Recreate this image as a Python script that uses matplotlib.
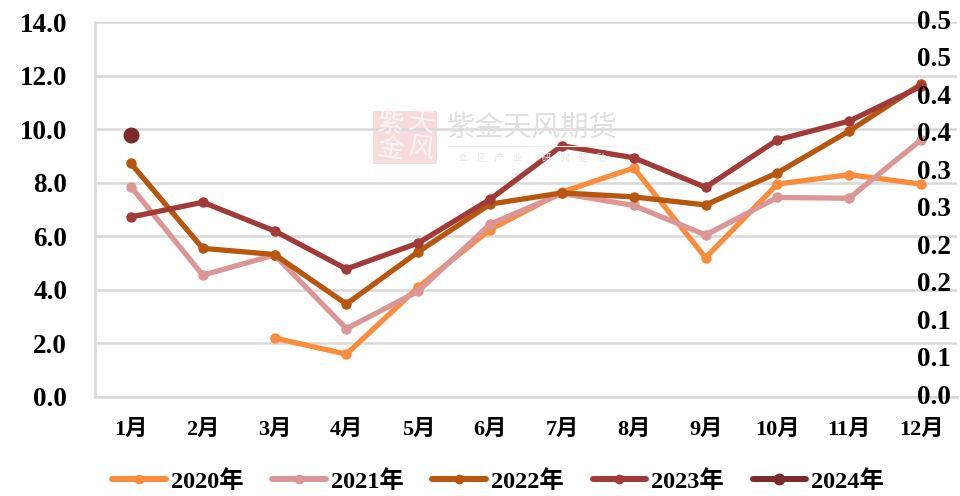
import matplotlib
matplotlib.use('Agg')
import matplotlib.pyplot as plt
from matplotlib.patches import FancyBboxPatch
from matplotlib.transforms import ScaledTranslation

months = ['1月', '2月', '3月', '4月', '5月', '6月', '7月', '8月', '9月', '10月', '11月', '12月']
nan = float('nan')
y2020 = [nan, nan, 2.2, 1.6, 4.1, 6.25, 7.65, 8.55, 5.2, 7.95, 8.3, 7.95]
y2021 = [7.85, 4.55, 5.3, 2.55, 3.95, 6.45, 7.6, 7.15, 6.05, 7.45, 7.42, 9.6]
y2022 = [8.72, 5.55, 5.32, 3.47, 5.42, 7.2, 7.62, 7.47, 7.17, 8.37, 9.93, 11.68]
y2023 = [6.72, 7.27, 6.2, 4.78, 5.75, 7.38, 9.38, 8.93, 7.83, 9.6, 10.3, 11.6]
y2024 = [9.78]
left_ticks = [0, 2, 4, 6, 8, 10, 12, 14]
right_ticks = [0, 0.05, 0.1, 0.15, 0.2, 0.25, 0.3, 0.35, 0.4, 0.45, 0.5]
right_labels = ['0.0', '0.1', '0.1', '0.2', '0.2', '0.3', '0.3', '0.4', '0.4', '0.5', '0.5']

plt.rcParams['font.family'] = ['Liberation Serif', 'Noto Sans CJK SC']
plt.rcParams['font.weight'] = 'bold'

GRAY = '#d9d9d9'
LW = 3.8
MS = 6.5

fig = plt.figure(figsize=(9.6, 4.96), dpi=100)
ax = fig.add_axes([95 / 960, 1 - 397 / 496, 862 / 960, 375 / 496])

# watermark, sits under the lines
logo = FancyBboxPatch((375 / 960, 1 - 163 / 496), 60 / 960, 51 / 496,
                      boxstyle='round,pad=0.002', transform=fig.transFigure,
                      facecolor='#f6dcdc', edgecolor='none', zorder=0)
fig.add_artist(logo)
logo_cn = '#fdf4f4'
fig.text(390 / 960, 1 - 125 / 496, '紫', fontsize=19, color=logo_cn, ha='center', va='center', rotation=-8, fontweight='normal')
fig.text(421 / 960, 1 - 124 / 496, '天', fontsize=19, color=logo_cn, ha='center', va='center', rotation=-8, fontweight='normal')
fig.text(390 / 960, 1 - 150 / 496, '金', fontsize=19, color=logo_cn, ha='center', va='center', rotation=-8, fontweight='normal')
fig.text(421 / 960, 1 - 150 / 496, '风', fontsize=19, color=logo_cn, ha='center', va='center', rotation=-8, fontweight='normal')
fig.text(532 / 960, 1 - 128 / 496, '紫金天风期货', fontsize=20.5, color='#e0e0e0', ha='center', va='center',
         family=['Noto Sans CJK SC'], fontweight='normal')
fig.text(532 / 960, 1 - 158 / 496, '立    足    产    业         研    究    驱    动', fontsize=7, color='#e6e6e6',
         ha='center', va='center', family=['Noto Sans CJK SC'], fontweight='normal')
fig.add_artist(plt.Line2D([448 / 960, 616 / 960], [1 - 146 / 496] * 2, color='#eeeeee', lw=0.8))
ax.patch.set_alpha(0)

x = list(range(12))
ax.plot(x, y2020, color='#fb8c3c', lw=LW, marker='o', ms=MS, label='2020年', solid_capstyle='round', zorder=3)
ax.plot(x, y2021, color='#dc9696', lw=LW, marker='o', ms=MS, label='2021年', solid_capstyle='round', zorder=4)
ax.plot(x, y2022, color='#b9560d', lw=LW, marker='o', ms=MS, label='2022年', solid_capstyle='round', zorder=5)
ax.plot(x, y2023, color='#a23a38', lw=LW, marker='o', ms=MS, label='2023年', solid_capstyle='round', zorder=6)
ax.plot(x[:1], y2024, color='#7c2b2a', lw=LW, marker='o', ms=10.5, label='2024年', solid_capstyle='round', zorder=7)

ax.set_xlim(-0.5, 11.5)
ax.set_ylim(0, 14)
ax.set_xticks(x)
ax.set_xticklabels(months, fontsize=16)
ax.set_yticks(left_ticks)
ax.set_yticklabels(['%.1f' % v for v in left_ticks], fontsize=19.5)
ax.tick_params(axis='both', length=0)
ax.tick_params(axis='x', pad=16.5)
ax.tick_params(axis='y', pad=20)
ax.grid(axis='y', color=GRAY, lw=1.8, zorder=1)
ax.set_axisbelow(True)
for s in ax.spines.values():
    s.set_color(GRAY)
    s.set_linewidth(1.8)
ax.spines['top'].set_visible(False)
ax.spines['right'].set_visible(False)

ax2 = ax.twinx()
ax2.set_ylim(0, 0.5)
ax2.set_yticks(right_ticks)
ax2.set_yticklabels(right_labels, fontsize=19.5)
ax2.tick_params(axis='y', length=0, pad=-29)
shift = ScaledTranslation(0, 2 / 72, fig.dpi_scale_trans)
for lab in ax2.get_yticklabels():
    lab.set_transform(lab.get_transform() + shift)
for s in ax2.spines.values():
    s.set_visible(False)
ax2.set_zorder(ax.get_zorder() + 1)
ax2.patch.set_visible(False)

leg = ax.legend(loc='lower center', bbox_to_anchor=(498 / 960, -0.018), bbox_transform=fig.transFigure, ncol=5,
                frameon=False, fontsize=17.5, handlelength=2.2, handletextpad=0.2, columnspacing=1.2, borderpad=0)
for h in leg.get_lines():
    h.set_linewidth(4.3)
    h.set_markersize(6)
leg.get_lines()[-1].set_markersize(7.5)

fig.savefig('out.png', dpi=100)
